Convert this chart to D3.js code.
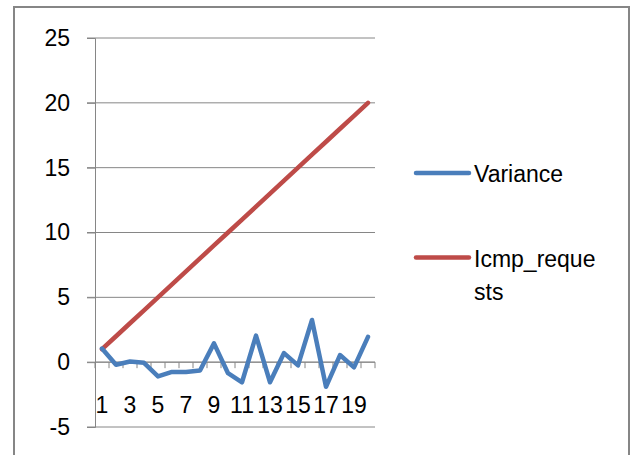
<!DOCTYPE html>
<html><head><meta charset="utf-8">
<script src="https://cdn.jsdelivr.net/npm/d3@7/dist/d3.min.js"></script>
<style>html,body{margin:0;padding:0;background:#fff;}svg{display:block;font-family:"Liberation Sans",Arial,sans-serif;}</style>
</head><body>
<script>
const categories = [1,2,3,4,5,6,7,8,9,10,11,12,13,14,15,16,17,18,19,20];
const variance = [1.05,-0.2,0.05,-0.05,-1.1,-0.75,-0.75,-0.65,1.45,-0.85,-1.55,2.05,-1.55,0.7,-0.25,3.25,-1.9,0.55,-0.4,1.95];
const icmpRequests = [1,2,3,4,5,6,7,8,9,10,11,12,13,14,15,16,17,18,19,20];
const yTicks = [-5,0,5,10,15,20,25];
const xTickLabels = ["1","3","5","7","9","11","13","15","17","19"];
const seriesNames = ["Variance", ["Icmp_reque","sts"]];
const colors = ["#4a7ebb", "#be4b48"];

const W = 631, H = 455;
const svg = d3.select("body").append("svg").attr("width", W).attr("height", H);

// outer border
svg.append("rect").attr("x", 14).attr("y", 7).attr("width", 615).attr("height", 470)
  .attr("fill", "none").attr("stroke", "#868686").attr("stroke-width", 2);

const x = d3.scaleBand().domain(categories).range([95, 375]);
const y = d3.scaleLinear().domain([-5, 25]).range([427, 38]);
const cx = d => x(d) + x.bandwidth() / 2;

// gridlines
svg.append("g").selectAll("line").data(yTicks).join("line")
  .attr("x1", 87).attr("x2", 375).attr("y1", d => y(d)).attr("y2", d => y(d))
  .attr("stroke", "#868686").attr("stroke-width", 1);

// y axis
const yAxis = svg.append("g").attr("transform", "translate(95,0)")
  .call(d3.axisLeft(y).tickValues(yTicks).tickSize(8).tickPadding(17).tickFormat(d => String(d)));
yAxis.select(".domain").attr("stroke", "#868686").attr("stroke-width", 1);
yAxis.selectAll(".tick line").attr("stroke", "#868686");
yAxis.selectAll(".tick text").attr("font-size", 23).attr("fill", "#000")
  .attr("font-family", "Liberation Sans, Arial, sans-serif");

// x axis at y=0
const xAxisG = svg.append("g").attr("transform", `translate(0,${y(0)})`);
xAxisG.append("line").attr("x1", 95).attr("x2", 375).attr("stroke", "#868686");
const bounds = categories.map(c => x(c)).concat([x(categories[categories.length-1]) + x.step()]);
xAxisG.selectAll("line.tk").data(bounds).join("line").attr("class", "tk")
  .attr("x1", d => d).attr("x2", d => d).attr("y1", 0).attr("y2", 6).attr("stroke", "#868686");
xAxisG.selectAll("text").data(xTickLabels).join("text")
  .attr("x", d => cx(+d)).attr("y", 413 - y(0))
  .attr("text-anchor", "middle").attr("font-size", 23).attr("fill", "#000").text(d => d);

// lines
const line = d3.line().x((d, i) => cx(categories[i])).y(d => y(d));
[icmpRequests, variance].forEach((s, k) => {
  svg.append("path").datum(s).attr("d", line).attr("fill", "none")
    .attr("stroke", colors[k === 0 ? 1 : 0]).attr("stroke-width", 4.5)
    .attr("stroke-linejoin", "round").attr("stroke-linecap", "round");
});

// legend
const leg = svg.append("g");
const legY = [173, 257.5];
seriesNames.forEach((name, i) => {
  leg.append("line").attr("x1", 416).attr("x2", 469).attr("y1", legY[i]).attr("y2", legY[i])
    .attr("stroke", colors[i]).attr("stroke-width", 4.5).attr("stroke-linecap", "round");
  const lines = Array.isArray(name) ? name : [name];
  lines.forEach((t, j) => {
    leg.append("text").attr("x", 474).attr("y", legY[i] + 9 + j * 33)
      .attr("font-size", 23).attr("fill", "#000").text(t);
  });
});
</script>
</body></html>
